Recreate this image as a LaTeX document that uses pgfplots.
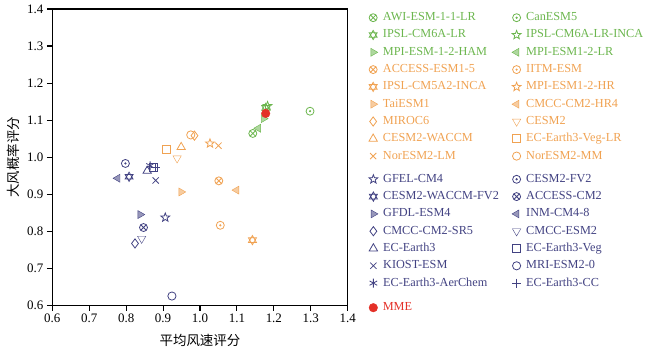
\documentclass[border=0pt]{standalone}
\usepackage{pgfplots}
\pgfplotsset{compat=1.18}
\usepackage{fontspec}
\setmainfont{Liberation Serif}
\newfontfamily\cjk{Noto Sans CJK SC}
\definecolor{cg}{RGB}{108,182,78}
\definecolor{co}{RGB}{240,162,82}
\definecolor{cb}{RGB}{66,66,130}
\definecolor{cr}{RGB}{228,48,40}

\pgfdeclareplotmark{odot}{%
  \pgfpathcircle{\pgfpointorigin}{\pgfplotmarksize}\pgfusepathqstroke
  \pgfpathcircle{\pgfpointorigin}{0.16\pgfplotmarksize}\pgfusepathqfillstroke}
\pgfdeclareplotmark{hexagram}{%
  \pgfpathmoveto{\pgfpointpolar{90}{\pgfplotmarksize}}%
  \pgfpathlineto{\pgfpointpolar{210}{\pgfplotmarksize}}%
  \pgfpathlineto{\pgfpointpolar{330}{\pgfplotmarksize}}%
  \pgfpathclose
  \pgfpathmoveto{\pgfpointpolar{270}{\pgfplotmarksize}}%
  \pgfpathlineto{\pgfpointpolar{30}{\pgfplotmarksize}}%
  \pgfpathlineto{\pgfpointpolar{150}{\pgfplotmarksize}}%
  \pgfpathclose
  \pgfusepathqstroke}
\pgfdeclareplotmark{star5}{%
  \pgfpathmoveto{\pgfpointpolar{90}{\pgfplotmarksize}}%
  \pgfpathlineto{\pgfpointpolar{126}{0.42\pgfplotmarksize}}%
  \pgfpathlineto{\pgfpointpolar{162}{\pgfplotmarksize}}%
  \pgfpathlineto{\pgfpointpolar{198}{0.42\pgfplotmarksize}}%
  \pgfpathlineto{\pgfpointpolar{234}{\pgfplotmarksize}}%
  \pgfpathlineto{\pgfpointpolar{270}{0.42\pgfplotmarksize}}%
  \pgfpathlineto{\pgfpointpolar{306}{\pgfplotmarksize}}%
  \pgfpathlineto{\pgfpointpolar{342}{0.42\pgfplotmarksize}}%
  \pgfpathlineto{\pgfpointpolar{18}{\pgfplotmarksize}}%
  \pgfpathlineto{\pgfpointpolar{54}{0.42\pgfplotmarksize}}%
  \pgfpathclose
  \pgfusepathqstroke}

\pgfplotsset{
  base/.style={only marks, mark options={solid, line width=0.8bp}},
  mOtimes/.style={base, mark=otimes, mark size=4bp},
  mOdot/.style={base, mark=odot, mark size=4bp},
  mHex/.style={base, mark=hexagram, mark size=4.6bp},
  mStar/.style={base, mark=star5, mark size=4.6bp},
  mRtri/.style={base, mark=triangle*, mark size=4.6bp, mark options={rotate=-90, fill=#1!55, draw=#1}},
  mLtri/.style={base, mark=triangle*, mark size=4.6bp, mark options={rotate=90, fill=#1!55, draw=#1}},
  mDiam/.style={base, mark=diamond, mark size=4.6bp},
  mDtri/.style={base, mark=triangle, mark size=4.8bp, mark options={rotate=180}},
  mUtri/.style={base, mark=triangle, mark size=4.8bp},
  mSq/.style={base, mark=square, mark size=3.9bp},
  mX/.style={base, mark=x, mark size=4.4bp},
  mO/.style={base, mark=o, mark size=4.1bp},
  mAst/.style={base, mark=asterisk, mark size=4.4bp},
  mPlus/.style={base, mark=+, mark size=4.4bp},
  mMME/.style={only marks, mark=*, mark size=4.3bp, mark options={solid, fill=cr, draw=cr}},
  legax/.style={scale only axis, width=1bp, height=1bp, hide axis,
    xmin=0, xmax=1, ymin=0, ymax=1, anchor=north west,
    legend image code/.code={\draw[##1] plot coordinates {(0bp,0bp)};},
    legend style={at={(0,1)}, anchor=north west, draw=none, fill=none,
      inner sep=0pt, outer sep=0pt, row sep=5.3bp,
      font=\fontsize{12.3}{14}\selectfont,
      cells={anchor=west},
      nodes={inner sep=0pt, text height=9bp, text depth=3bp},
      /tikz/every odd column/.style={column sep=5.2bp}}},
}
\newcommand{\pt}[3]{\addplot[#1] coordinates {(#2,#3)};}

\begin{document}
\begin{tikzpicture}
\useasboundingbox (0,0) rectangle (650bp,350bp);
\begin{axis}[
  at={(52.3bp,44.7bp)}, anchor=south west,
  scale only axis, width=295.4bp, height=296.3bp,
  xmin=0.6, xmax=1.4, ymin=0.6, ymax=1.4,
  xtick={0.6,0.7,0.8,0.9,1.0,1.1,1.2,1.3,1.4},
  ytick={0.6,0.7,0.8,0.9,1.0,1.1,1.2,1.3,1.4},
  tick pos=left, tick align=outside, major tick length=5.5bp,
  axis line style={line width=1.1bp},
  every tick/.style={black, line width=1.1bp},
  tick label style={font=\fontsize{13}{15}\selectfont},
  /pgf/number format/.cd, fixed, fixed zerofill, precision=1, assume math mode=true,
  /pgfplots/.cd,
  xlabel={平均风速评分}, ylabel={大风概率评分},
  label style={font=\cjk\fontsize{13.5}{15}\selectfont},
  xlabel style={at={(axis description cs:0.5,-0.12)}, anchor=center},
  ylabel style={at={(axis description cs:-0.133,0.5)}, anchor=center},
  clip=false,
]
% green
\pt{cg, mOtimes}{1.143}{1.064}
\pt{cg, mOdot}{1.298}{1.124}
\pt{cg, mHex}{1.178}{1.133}
\pt{cg, mStar}{1.183}{1.138}
\pt{cg, mRtri=cg}{1.172}{1.104}
\pt{cg, mLtri=cg}{1.158}{1.078}
% orange
\pt{co, mOtimes}{1.051}{0.936}
\pt{co, mOdot}{1.055}{0.816}
\pt{co, mHex}{1.142}{0.776}
\pt{co, mStar}{1.027}{1.037}
\pt{co, mRtri=co}{0.949}{0.906}
\pt{co, mLtri=co}{1.099}{0.911}
\pt{co, mDiam}{0.985}{1.058}
\pt{co, mDtri}{0.938}{0.997}
\pt{co, mUtri}{0.949}{1.027}
\pt{co, mSq}{0.909}{1.022}
\pt{co, mX}{1.050}{1.031}
\pt{co, mO}{0.975}{1.060}
% blue
\pt{cb, mStar}{0.906}{0.837}
\pt{cb, mOdot}{0.798}{0.983}
\pt{cb, mHex}{0.808}{0.947}
\pt{cb, mOtimes}{0.847}{0.810}
\pt{cb, mRtri=cb}{0.838}{0.845}
\pt{cb, mLtri=cb}{0.777}{0.943}
\pt{cb, mDiam}{0.824}{0.767}
\pt{cb, mDtri}{0.842}{0.780}
\pt{cb, mUtri}{0.857}{0.963}
\pt{cb, mSq}{0.874}{0.973}
\pt{cb, mX}{0.880}{0.937}
\pt{cb, mO}{0.924}{0.625}
\pt{cb, mAst}{0.865}{0.977}
\pt{cb, mPlus}{0.880}{0.972}
% MME
\pt{mMME}{1.178}{1.118}
\end{axis}

% legends: green/orange column 1
\begin{axis}[legax, at={(369bp,338.3bp)}]
\addlegendimage{cg, mOtimes}\addlegendentry{\textcolor{cg}{AWI-ESM-1-1-LR}}
\addlegendimage{cg, mHex}\addlegendentry{\textcolor{cg}{IPSL-CM6A-LR}}
\addlegendimage{cg, mRtri=cg}\addlegendentry{\textcolor{cg}{MPI-ESM-1-2-HAM}}
\addlegendimage{co, mOtimes}\addlegendentry{\textcolor{co}{ACCESS-ESM1-5}}
\addlegendimage{co, mHex}\addlegendentry{\textcolor{co}{IPSL-CM5A2-INCA}}
\addlegendimage{co, mRtri=co}\addlegendentry{\textcolor{co}{TaiESM1}}
\addlegendimage{co, mDiam}\addlegendentry{\textcolor{co}{MIROC6}}
\addlegendimage{co, mUtri}\addlegendentry{\textcolor{co}{CESM2-WACCM}}
\addlegendimage{co, mX}\addlegendentry{\textcolor{co}{NorESM2-LM}}
\end{axis}
% green/orange column 2
\begin{axis}[legax, at={(512bp,338.3bp)}]
\addlegendimage{cg, mOdot}\addlegendentry{\textcolor{cg}{CanESM5}}
\addlegendimage{cg, mStar}\addlegendentry{\textcolor{cg}{IPSL-CM6A-LR-INCA}}
\addlegendimage{cg, mLtri=cg}\addlegendentry{\textcolor{cg}{MPI-ESM1-2-LR}}
\addlegendimage{co, mOdot}\addlegendentry{\textcolor{co}{IITM-ESM}}
\addlegendimage{co, mStar}\addlegendentry{\textcolor{co}{MPI-ESM1-2-HR}}
\addlegendimage{co, mLtri=co}\addlegendentry{\textcolor{co}{CMCC-CM2-HR4}}
\addlegendimage{co, mDtri}\addlegendentry{\textcolor{co}{CESM2}}
\addlegendimage{co, mSq}\addlegendentry{\textcolor{co}{EC-Earth3-Veg-LR}}
\addlegendimage{co, mO}\addlegendentry{\textcolor{co}{NorESM2-MM}}
\end{axis}
% blue column 1
\begin{axis}[legax, at={(369bp,176.7bp)}]
\addlegendimage{cb, mStar}\addlegendentry{\textcolor{cb}{GFEL-CM4}}
\addlegendimage{cb, mHex}\addlegendentry{\textcolor{cb}{CESM2-WACCM-FV2}}
\addlegendimage{cb, mRtri=cb}\addlegendentry{\textcolor{cb}{GFDL-ESM4}}
\addlegendimage{cb, mDiam}\addlegendentry{\textcolor{cb}{CMCC-CM2-SR5}}
\addlegendimage{cb, mUtri}\addlegendentry{\textcolor{cb}{EC-Earth3}}
\addlegendimage{cb, mX}\addlegendentry{\textcolor{cb}{KIOST-ESM}}
\addlegendimage{cb, mAst}\addlegendentry{\textcolor{cb}{EC-Earth3-AerChem}}
\end{axis}
% blue column 2
\begin{axis}[legax, at={(512bp,176.7bp)}]
\addlegendimage{cb, mOdot}\addlegendentry{\textcolor{cb}{CESM2-FV2}}
\addlegendimage{cb, mOtimes}\addlegendentry{\textcolor{cb}{ACCESS-CM2}}
\addlegendimage{cb, mLtri=cb}\addlegendentry{\textcolor{cb}{INM-CM4-8}}
\addlegendimage{cb, mDtri}\addlegendentry{\textcolor{cb}{CMCC-ESM2}}
\addlegendimage{cb, mSq}\addlegendentry{\textcolor{cb}{EC-Earth3-Veg}}
\addlegendimage{cb, mO}\addlegendentry{\textcolor{cb}{MRI-ESM2-0}}
\addlegendimage{cb, mPlus}\addlegendentry{\textcolor{cb}{EC-Earth3-CC}}
\end{axis}
% MME
\begin{axis}[legax, at={(369bp,48.3bp)}]
\addlegendimage{mMME}\addlegendentry{\textcolor{cr}{MME}}
\end{axis}
\end{tikzpicture}
\end{document}
